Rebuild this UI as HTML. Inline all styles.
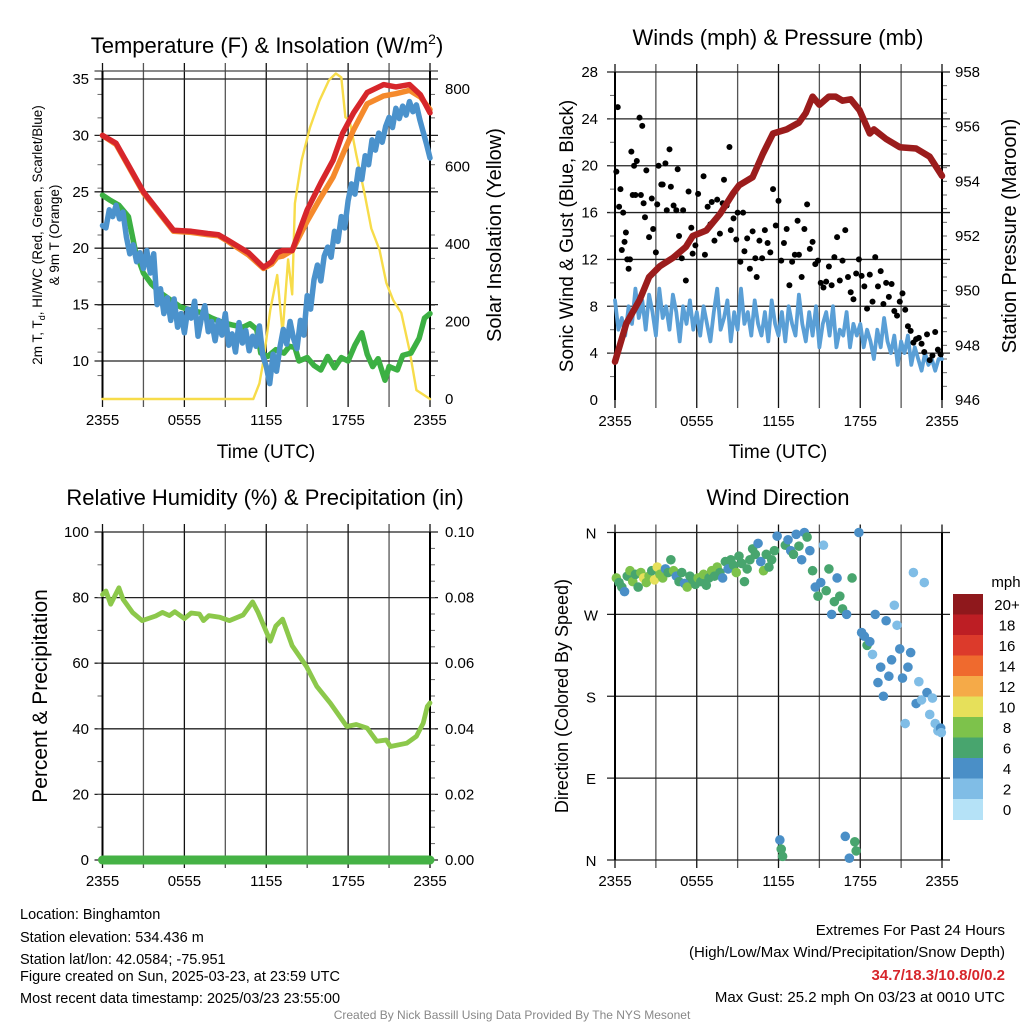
<!DOCTYPE html>
<html><head><meta charset="utf-8">
<style>
html,body{margin:0;padding:0;background:#fff;}
svg{display:block;font-family:"Liberation Sans",Arial,sans-serif;}
</style></head>
<body>
<svg id="root" xmlns="http://www.w3.org/2000/svg" width="1024" height="1024" viewBox="0 0 1024 1024">
<rect x="0" y="0" width="1024" height="1024" fill="#fff"/>
<text x="267" y="53" font-size="22" text-anchor="middle">Temperature (F) &amp; Insolation (W/m<tspan font-size="14" dy="-9">2</tspan><tspan dy="9">)</tspan></text>
<text x="778" y="45" font-size="22" text-anchor="middle">Winds (mph) &amp; Pressure (mb)</text>
<text x="265" y="505" font-size="22" text-anchor="middle">Relative Humidity (%) &amp; Precipitation (in)</text>
<text x="778" y="505" font-size="22" text-anchor="middle">Wind Direction</text>
<g id="g1"></g>
<g id="g2"></g>
<g id="g3"></g>
<g id="g4"></g>
<g font-size="14.5">
<text x="20" y="919">Location: Binghamton</text>
<text x="20" y="942">Station elevation: 534.436 m</text>
<text x="20" y="964">Station lat/lon: 42.0584; -75.951</text>
<text x="20" y="981">Figure created on Sun, 2025-03-23, at 23:59 UTC</text>
<text x="20" y="1003">Most recent data timestamp: 2025/03/23 23:55:00</text>
</g>
<g font-size="15" text-anchor="end">
<text x="1005" y="935">Extremes For Past 24 Hours</text>
<text x="1005" y="957">(High/Low/Max Wind/Precipitation/Snow Depth)</text>
<text x="1005" y="980" fill="#d7262b" font-weight="bold">34.7/18.3/10.8/0/0.2</text>
<text x="1005" y="1002">Max Gust: 25.2 mph On 03/23 at 0010 UTC</text>
</g>
<text x="512" y="1019" font-size="12" fill="#888" text-anchor="middle">Created By Nick Bassill Using Data Provided By The NYS Mesonet</text>
</svg>
<script>
// ---------- DATA ----------
const xTickLabels = ["2355","0555","1155","1755","2355"];
// Temperature panel
const tempTicks = [10,15,20,25,30,35];
const insolTicks = [0,200,400,600,800];
const redT = [0,1,3,5.2,6.5,7.7,8.5,9.2,10.7,11.8,12.4,12.8,13.2,13.9,15,16,16.9,17.6,18.4,19.4,20.6,21.5,22.5,23.3,24];
const redV = [30,29.3,25,21.6,21.5,21.3,21.2,20.7,19.6,18.3,18.8,19.6,19.8,19.8,23.4,25.8,27.8,30.2,32,33.8,34.5,34.3,34.5,33.6,32];
const orangeT = [0,1,3,5.2,6.5,7.7,8.5,9.2,10.7,11.8,12.4,12.8,13.2,13.9,15,16,16.9,17.6,18.4,19.4,20.6,21.5,22.5,23.3,24];
const orangeV = [30,29.2,24.9,21.5,21.4,21.2,21.1,20.6,19.4,18.2,18.6,19.2,19.3,19.8,22.4,24.5,26.3,28.3,30.5,32.8,33.5,33.7,34,33.4,32.3];
const greenT = [0,0.5,1.2,1.9,2.4,3,3.6,4.3,5,5.7,6.5,7.2,8,8.8,9.5,10.3,10.8,11.3,11.6,12.1,12.7,13.3,13.7,14.1,14.4,15,15.5,16,16.5,17,17.5,18,18.5,19,19.4,19.8,20.2,20.7,21,21.6,22,22.6,23.2,23.6,24];
const greenV = [24.7,24.3,23.8,22.8,19.8,17.8,16.8,16,15.4,14.8,14.5,14.3,13.8,13.4,13.2,13,13.3,12.8,10.7,10.4,11,10.7,11.3,11.2,10,10.3,9.6,9.2,10.4,9.4,10.3,10,11.4,12.5,10.6,9.5,10.2,8.3,9.5,9.2,10.5,10.7,12,13.8,14.2];
const blueV = [22,21.8,23.4,22.8,23.8,22.6,23.2,21,19.5,20.3,18.8,19.6,18.2,19.8,17.8,19.5,15,16.4,14.2,15.6,13.6,15.5,13,14.2,12.5,14.6,13.8,15.3,12.2,13.8,14.9,12.6,13.5,11.8,13.6,12.3,14.2,11.4,12.4,10.8,13.4,11.6,12.7,10.9,12.2,11.3,13.1,10.5,9.5,8,10.6,9.1,11.2,12.8,11.5,13.5,12,11.1,13.6,12.3,15.8,14.6,17.2,18.5,17.1,19.3,20.1,19.2,21.5,20.6,22.8,21.8,24.2,25.7,24.8,27,26.1,28.2,27.4,29.6,28.7,30.2,29.4,30.8,31.6,30.7,32.4,31.5,32.6,31.8,33,32.1,32.7,31.4,30.3,29.2,28];
const solarT = [0,11.05,11.5,11.8,12.3,12.8,13.2,13.6,13.9,14.1,14.6,15.2,15.9,16.6,17.1,17.5,17.8,18.1,18.6,19.2,19.7,20.3,20.8,21.3,21.9,22.5,23,24];
const solarV = [0,0,40,100,230,320,170,360,270,505,617,700,770,823,840,830,727,720,630,531,440,385,300,255,222,126,23,0];
// Winds panel
const windTicks = [0,4,8,12,16,20,24,28];
const pressTicks = [946,948,950,952,954,956,958];
const windV = [8.5,6,7,5.5,8,6.5,9.5,7,8.5,6,9,7.5,5.5,9.5,7,8,6,9,7.5,5,8,6.5,8.5,6,7.5,
5.5,8,6.5,5,7.5,9.5,6,7,8.5,5,7.5,6,9.5,6.5,7.5,5.5,8.5,6.5,5.5,7.5,5,8.5,6.5,5.5,
7.5,5,8,6.5,5.5,9,6.5,5,7.5,5.5,8,4.5,6.5,7.5,5.5,8,4.5,6,5.5,7.5,4.5,6.5,5.5,6.5,
4.5,6,5,3.5,6,4.5,7,5,4,5.5,3,5,4,5.5,3,4.5,3.5,2.5,4,3,3.5,2.5,3.5,3.5];
const gustT = [0.1,0.2,0.3,0.4,0.5,0.6,0.7,0.8,0.9,1,1.1,1.2,1.3,1.4,1.5,1.6,1.8,1.9,2,2.1,2.2,2.3,2.5,2.7,2.8,3,3.1,3.2,3.4,3.5,3.7,3.8,4,4.1,4.3,4.5,4.6,4.7,4.9,5,5.2,5.4,5.6,5.7,5.9,6.1,6.3,6.5,6.6,6.8,7,7.1,7.3,7.5,7.7,7.9,8,8.2,8.4,8.5,8.7,8.9,9,9.2,9.4,9.5,9.7,9.9,10.1,10.3,10.4,10.6,10.8,11,11.2,11.4,11.6,11.8,12,12.2,12.4,12.6,12.8,13,13.2,13.4,13.5,13.7,13.9,14.1,14.3,14.5,14.7,14.9,15.1,15.3,15.5,15.7,15.9,16.1,16.3,16.5,16.7,16.9,17.1,17.3,17.5,17.7,17.9,18.1,18.3,18.5,18.7,18.9,19.1,19.3,19.5,19.7,19.9,20.1,20.3,20.5,20.7,20.9,21.1,21.3,21.5,21.7,21.9,22.1,22.3,22.5,22.7,22.9,23.1,23.3,23.5,23.7,23.9];
const gustV = [19.5,25,16.5,18,12.8,16,13.5,14.3,12,11.2,12,21.2,17.5,20,17.5,20.4,24.1,17.5,23.4,16.8,15.6,19.6,13.9,17.2,14.6,12.6,16.7,20,18.4,18.4,20.2,16.2,21.4,18.2,16.6,16.2,19.7,14,12.1,16.2,10.2,17.8,14.7,12.5,13.2,17.6,14.3,19.1,12.4,16.5,15,16.9,13.6,17.1,14.2,16.8,18.8,16.6,21.6,14.5,15.5,13.7,16,11.8,16,12.7,13.8,11.2,14.4,12.1,10.5,13.6,12.1,14.5,13.4,12.6,18,14.9,17,11.9,13.4,14.6,9.8,11.8,12.4,15.3,12.4,10.5,14.6,16.7,12.9,13.5,11.6,11.9,10,9.6,10.1,11.4,9.8,12.2,13.9,10.2,11.9,14.5,10.5,9.2,8.6,10.8,12,10.6,9.7,7.8,10.7,8.4,12.2,9.7,11,8.2,10,8.8,9.9,7.6,7.2,8.4,9.1,7.7,6.3,5.9,4.9,5.2,5.3,4.8,4.1,5.6,3.4,3.8,5.8,4.3,3.9,5.2,6.5];
const pressT = [0,0.83,1.8,2.5,3.3,4.25,5.2,5.7,6.7,7.7,8.65,9.1,10.1,10.85,11.6,12.6,13.5,14,14.5,15,15.7,16.2,16.7,17.3,17.95,18.7,19,19.9,20.9,22.1,23.1,24];
const pressV = [947.4,948.8,949.65,950.5,950.9,951.2,951.6,952,952.2,952.8,953.55,953.85,954.15,955,955.75,955.9,956.15,956.5,957.1,956.8,957.1,957.1,956.95,957,956.6,955.75,955.9,955.55,955.25,955.2,954.9,954.2];
// Humidity panel
const rhTicks = [0,20,40,60,80,100];
const precipTicks = ["0.00","0.02","0.04","0.06","0.08","0.10"];
const rhT = [0,0.25,0.6,1.2,1.5,2.2,2.9,3.9,4.4,4.9,5.3,6,6.5,7.1,7.4,7.8,8.6,9.3,10.3,11,11.4,12.3,12.7,13.2,13.9,14.95,15.7,16.7,17.9,18.6,19.4,20.1,20.8,21.1,22.3,23,23.5,23.8,24];
const rhV = [80.9,82,78,83,79.5,75.5,73,74.4,75.5,74.5,75.7,73.6,75.3,75,73,74.5,74,73,74.7,78.7,75.5,66.7,71.3,73.4,65.3,59,53,47.8,40.7,41.3,40.2,36.2,36.6,34.6,35.6,37.7,41.7,46.8,47.9];
const precipT = [0,24];
const precipV = [0,0];
// Wind direction panel
const dirLabels = ["N","E","S","W","N"];
const dirT = [0.1,0.3,0.5,0.7,0.9,1.1,1.3,1.5,1.7,1.9,2.1,2.3,2.5,2.7,2.9,3.1,3.3,3.5,3.7,3.9,4.1,4.3,4.5,4.7,4.9,5.1,5.3,5.5,5.7,5.9,6.1,6.3,6.5,6.7,6.9,7.1,7.3,7.5,7.7,7.9,8.1,8.3,8.5,8.7,8.9,9.1,9.3,9.5,9.7,9.9,10.1,10.3,10.5,10.7,10.9,11.1,11.3,11.5,11.7,11.9,12.1,12.2,12.3,12.5,12.7,12.9,13.1,13.3,13.5,13.7,13.9,14.1,14.3,14.5,14.7,14.9,15.1,15.3,15.5,15.7,15.9,16.1,16.3,16.5,16.7,16.9,17,17.2,17.4,17.6,17.7,17.9,18.1,18.3,18.5,18.7,18.9,19.1,19.3,19.5,19.7,19.9,20.1,20.3,20.5,20.7,20.9,21.1,21.3,21.5,21.7,21.9,22.1,22.3,22.5,22.7,22.9,23.1,23.3,23.5,23.7,23.9,23.95];
const dirV = [310,305,300,295,312,318,306,314,300,316,310,305,312,318,308,322,314,310,320,316,330,318,312,306,316,304,300,312,308,303,310,306,314,302,310,318,312,322,316,310,328,320,330,324,316,334,326,306,320,330,342,336,348,328,318,336,322,330,340,356,22,12,4,346,352,340,336,358,345,330,360,355,340,318,300,290,305,346,296,320,270,284,310,290,276,26,270,2,310,20,10,360,250,246,236,240,226,270,195,212,180,263,202,220,280,258,232,200,150,212,228,316,172,196,176,305,184,160,178,150,142,145,140];
const dirS = [8,7,6,4,7,8,9,7,6,8,10,9,8,7,10,10,8,8,4,7,6,8,4,7,6,4,8,6,7,6,8,6,9,6,7,8,6,8,6,5,6,4,6,6,8,6,6,6,6,6,6,6,4,4,8,6,6,6,6,4,4,6,6,6,4,4,6,4,6,4,4,6,4,6,4,6,4,2,6,6,4,6,4,6,6,4,4,4,6,6,6,4,4,4,6,4,2,4,4,4,4,4,4,4,2,2,4,4,2,4,4,2,4,2,2,2,4,2,2,2,2,4,2];
const cbLabels = ["0","2","4","6","8","10","12","14","16","18","20+"];
const cbColors = ["#b5e2f7","#80bde6","#4a8fc7","#48a56e","#7dc24b","#e6e05a","#f5aa48","#ef6a2e","#dc3a2b","#bd1e24","#8f181c"];

// ---------- helpers ----------
const NS="http://www.w3.org/2000/svg";
function mk(parent,tag,attrs,txt){const e=document.createElementNS(NS,tag);for(const k in attrs)e.setAttribute(k,attrs[k]);if(txt!==undefined)e.textContent=txt;parent.appendChild(e);return e;}
function makeX(x0,x1){return t=>x0+(x1-x0)*t/24;}
function makeY(y0,y1,v0,v1){return v=>y0+(y1-y0)*(v-v0)/(v1-v0);}
function vgrid(g,x0,x1,top,bot){
  for(let i=0;i<=8;i++){const x=x0+(x1-x0)*i/8;
    const l=mk(g,'line',{x1:x,x2:x,y1:top-8,y2:bot+8,stroke:(i%2?'#555':'#111'),'stroke-width':1.3});
    
    }
  xTickLabels.forEach((s,i)=>{const t=mk(g,'text',{x:x0+(x1-x0)*i/4,y:bot+26,'font-size':15,'text-anchor':'middle'},s);
    
    });
}
function hline(g,x0,x1,y,col){const l=mk(g,'line',{x1:x0-8,x2:x1+8,y1:y,y2:y,stroke:col||'#222','stroke-width':1.3});
  
  }
function box(g,x0,x1,top,bot){
  const l=mk(g,'line',{x1:x0,x2:x0,y1:top,y2:bot,stroke:'#000','stroke-width':2});
  
  
  const r=mk(g,'line',{x1:x1,x2:x1,y1:top,y2:bot,stroke:'#000','stroke-width':2});
  
  
}
function minorTicks(g,x,top,bot,n,side){for(let i=1;i<n;i++){const y=top+(bot-top)*i/n;
  const l=mk(g,'line',{x1:x,x2:x+side*5,y1:y,y2:y,stroke:'#666','stroke-width':1});
  
  }}
function path(g,xs,ys,X,Y,col,w,name){
  let d='';xs.forEach((t,i)=>{d+=(i?'L':'M')+X(t).toFixed(1)+','+Y(ys[i]).toFixed(1);});
  const p=mk(g,'path',{d:d,fill:'none',stroke:col,'stroke-width':w,'stroke-linejoin':'round','stroke-linecap':'round'});
  
  
  return p;
}
function label(g,x,y,s,anchor,size,name,rot){
  const a={x:x,y:y,'font-size':size,'text-anchor':anchor};
  if(rot)a.transform='rotate(-90 '+x+' '+y+')';
  const t=mk(g,'text',a,s);
  
  
  return t;
}

// ---------- Panel 1 ----------
(function(){
  const g=document.getElementById('g1');
  const x0=102.5,x1=430,top=71,bot=399;
  const X=makeX(x0,x1), Y=makeY(361,79,10,35), YS=makeY(399,89,0,800);
  vgrid(g,x0,x1,top,bot);
  hline(g,x0,x1,top,'#444');
  tempTicks.forEach(v=>{hline(g,x0,x1,Y(v));label(g,89,Y(v)+5,String(v),'end',15,'left-tick-label');});
  insolTicks.forEach(v=>{label(g,445,YS(v)+5,String(v),'start',15,'right-tick-label');});
  minorTicks(g,x0,top,bot,14,-1);minorTicks(g,x1,top,bot,14,1);
  box(g,x0,x1,top,bot);
  path(g,solarT,solarV,X,YS,'#f7dc4a',2.4,'solar-insolation-line');
  path(g,greenT,greenV,X,Y,'#3cb043',5.5,'dewpoint-line');
  const bt=blueV.map((v,i)=>i*24/(blueV.length-1));
  path(g,bt,blueV,X,Y,'#4b92cc',5.5,'sonic-temp-line');
  path(g,orangeT,orangeV,X,Y,'#f58a2c',5.5,'9m-temp-line');
  path(g,redT,redV,X,Y,'#d7262b',5.5,'2m-temp-line');
  label(g,266,458,'Time (UTC)','middle',19,'x-axis-title');
  const t=label(g,42,235,'','middle',13.5,'left-axis-title',true);
  t.innerHTML='2m T, T<tspan font-size="9" dy="3">d</tspan><tspan dy="-3">, HI/WC (Red, Green, Scarlet/Blue)</tspan>';
  label(g,59,235,'& 9m T (Orange)','middle',13.5,'left-axis-title-line2',true);
  label(g,501,235,'Solar Insolation (Yellow)','middle',20,'right-axis-title',true);
})();

// ---------- Panel 2 ----------
(function(){
  const g=document.getElementById('g2');
  const x0=615,x1=942,top=72,bot=400;
  const X=makeX(x0,x1), Y=makeY(400,72,0,28), YP=makeY(400,72,946,958);
  vgrid(g,x0,x1,top,bot);
  windTicks.forEach(v=>{if(v>0&&v<28)hline(g,x0,x1,Y(v));label(g,598,Y(v)+5,String(v),'end',15,'left-tick-label');});
  hline(g,x0,x1,top,'#222');
  pressTicks.forEach(v=>{label(g,955,YP(v)+5,String(v),'start',15,'right-tick-label');});
  minorTicks(g,x0,top,bot,14,-1);minorTicks(g,x1,top,bot,24,1);
  box(g,x0,x1,top,bot);
  const wt=windV.map((v,i)=>i*24/(windV.length-1));
  path(g,wt,windV,X,Y,'#5a9fd6',3.8,'sonic-wind-line');
  gustT.forEach((t,i)=>{const c=mk(g,'circle',{cx:X(t),cy:Y(gustV[i]),r:3,fill:'#000'});
    
    });
  path(g,pressT,pressV,X,YP,'#9b1c1c',6.5,'pressure-line');
  label(g,778,458,'Time (UTC)','middle',19,'x-axis-title');
  label(g,573,236,'Sonic Wind & Gust (Blue, Black)','middle',19,'left-axis-title',true);
  label(g,1016,236,'Station Pressure (Maroon)','middle',20,'right-axis-title',true);
})();

// ---------- Panel 3 ----------
(function(){
  const g=document.getElementById('g3');
  const x0=102.5,x1=430,top=532,bot=860;
  const X=makeX(x0,x1), Y=makeY(860,532,0,100), YP=makeY(860,532,0,0.1);
  vgrid(g,x0,x1,top,bot);
  rhTicks.forEach((v,i)=>{hline(g,x0,x1,Y(v));label(g,89,Y(v)+5,String(v),'end',15,'left-tick-label');
    label(g,445,Y(v)+5,precipTicks[i],'start',15,'right-tick-label');});
  minorTicks(g,x0,top,bot,10,-1);minorTicks(g,x1,top,bot,20,1);
  box(g,x0,x1,top,bot);
  path(g,rhT,rhV,X,Y,'#8cc84b',4.8,'humidity-line');
  path(g,precipT,precipV,X,YP,'#45b245',9,'precipitation-line');
  label(g,47,696,'Percent & Precipitation','middle',21,'left-axis-title',true);
})();

// ---------- Panel 4 ----------
(function(){
  const g=document.getElementById('g4');
  const x0=615,x1=942,top=532.5,bot=860;
  const X=makeX(x0,x1), Y=makeY(860,532.5,0,360);
  vgrid(g,x0,x1,top,bot);
  dirLabels.forEach((s,i)=>{const y=Y(i*90);hline(g,x0,x1,y);label(g,591,y+6,s,'middle',15,'direction-tick-label');});
  box(g,x0,x1,top,bot);
  function col(s){let k=Math.floor(s/2);if(k<0)k=0;if(k>10)k=10;return cbColors[k];}
  dirT.forEach((t,i)=>{const c=mk(g,'circle',{cx:X(t),cy:Y(dirV[i]),r:4.8,fill:col(dirS[i])});
    
    });
  label(g,568,696,'Direction (Colored By Speed)','middle',18,'left-axis-title',true);
  label(g,1006,587,'mph','middle',15,'colorbar-title');
  const cbTop=594,cbH=20.5;
  for(let i=0;i<cbColors.length;i++){
    const k=cbColors.length-1-i;
    const r=mk(g,'rect',{x:953,y:cbTop+i*cbH,width:30,height:cbH+0.5,fill:cbColors[k]});
    
    
    label(g,1007,cbTop+i*cbH+16,cbLabels[k],'middle',15,'colorbar-label');
  }
})();
</script>
</body></html>
